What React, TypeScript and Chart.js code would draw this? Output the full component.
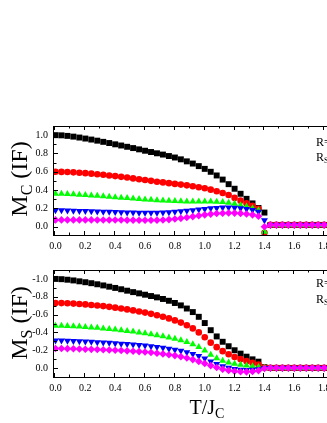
import React, { useEffect, useRef } from "react";
import { Chart, registerables } from "chart.js";

Chart.register(...registerables);

const SERIF = '"Liberation Serif", "Times New Roman", serif';

// Temperature T/J_C
const T_VALUES = [0.00,0.04,0.08,0.12,0.16,0.20,0.24,0.28,0.32,0.36,0.40,0.44,0.48,0.52,0.56,0.60,0.64,0.68,0.72,0.76,0.80,0.84,0.88,0.92,0.96,1.00,1.04,1.08,1.12,1.16,1.20,1.24,1.28,1.32,1.36,1.40,1.44,1.48,1.52,1.56,1.60,1.64,1.68,1.72,1.76,1.80,1.84,1.88,1.92,1.96,2.00];

// Top panel: M_C (IF)
const MC_BLACK = [1.000,0.998,0.992,0.984,0.974,0.963,0.952,0.940,0.927,0.914,0.900,0.887,0.873,0.859,0.845,0.830,0.816,0.802,0.788,0.772,0.756,0.736,0.714,0.690,0.662,0.632,0.600,0.560,0.515,0.465,0.415,0.360,0.305,0.255,0.205,0.155,0.02,0.02,0.02,0.02,0.02,0.02,0.02,0.02,0.02,0.02,0.02,0.02,0.02,0.02,0.02];
const MC_RED = [0.600,0.599,0.597,0.594,0.590,0.585,0.580,0.574,0.567,0.560,0.553,0.545,0.537,0.528,0.519,0.510,0.501,0.492,0.484,0.476,0.468,0.460,0.452,0.443,0.432,0.420,0.405,0.388,0.368,0.346,0.315,0.285,0.255,0.228,0.195,-0.065,0.02,0.02,0.02,0.02,0.02,0.02,0.02,0.02,0.02,0.02,0.02,0.02,0.02,0.02,0.02];
const MC_GREEN = [0.360,0.359,0.357,0.354,0.350,0.346,0.342,0.338,0.333,0.328,0.323,0.318,0.313,0.308,0.303,0.298,0.294,0.290,0.286,0.283,0.280,0.278,0.277,0.276,0.276,0.275,0.275,0.274,0.270,0.262,0.250,0.236,0.220,0.202,0.180,-0.055,0.02,0.02,0.02,0.02,0.02,0.02,0.02,0.02,0.02,0.02,0.02,0.02,0.02,0.02,0.02];
const MC_BLUE = [0.180,0.179,0.177,0.175,0.173,0.171,0.169,0.167,0.165,0.163,0.161,0.159,0.157,0.155,0.154,0.153,0.153,0.154,0.156,0.159,0.163,0.168,0.174,0.181,0.188,0.195,0.201,0.206,0.209,0.210,0.208,0.203,0.195,0.183,0.165,0.070,0.02,0.02,0.02,0.02,0.02,0.02,0.02,0.02,0.02,0.02,0.02,0.02,0.02,0.02,0.02];
const MC_MAGENTA = [0.075,0.075,0.075,0.075,0.075,0.075,0.075,0.074,0.074,0.074,0.073,0.073,0.072,0.072,0.071,0.071,0.071,0.072,0.074,0.078,0.084,0.092,0.101,0.111,0.121,0.130,0.138,0.144,0.148,0.150,0.149,0.146,0.140,0.130,0.115,0.000,0.02,0.02,0.02,0.02,0.02,0.02,0.02,0.02,0.02,0.02,0.02,0.02,0.02,0.02,0.02];

// Bottom panel: M_S (IF)
const MS_BLACK = [-1.000,-0.997,-0.991,-0.983,-0.973,-0.963,-0.952,-0.940,-0.927,-0.913,-0.899,-0.884,-0.868,-0.852,-0.838,-0.823,-0.808,-0.793,-0.775,-0.755,-0.730,-0.703,-0.668,-0.628,-0.575,-0.505,-0.425,-0.355,-0.295,-0.245,-0.200,-0.162,-0.128,-0.098,-0.072,-0.010,-0.002,-0.002,-0.002,-0.002,-0.002,-0.002,-0.002,-0.002,-0.002,-0.002,-0.002,-0.002,-0.002,-0.002,-0.002];
const MS_RED = [-0.730,-0.729,-0.727,-0.723,-0.719,-0.714,-0.708,-0.702,-0.695,-0.687,-0.678,-0.668,-0.658,-0.647,-0.635,-0.622,-0.608,-0.593,-0.576,-0.557,-0.535,-0.510,-0.480,-0.445,-0.400,-0.345,-0.285,-0.235,-0.190,-0.155,-0.125,-0.100,-0.078,-0.058,-0.040,-0.005,-0.002,-0.002,-0.002,-0.002,-0.002,-0.002,-0.002,-0.002,-0.002,-0.002,-0.002,-0.002,-0.002,-0.002,-0.002];
const MS_GREEN = [-0.475,-0.474,-0.472,-0.469,-0.465,-0.461,-0.456,-0.451,-0.445,-0.439,-0.432,-0.425,-0.417,-0.409,-0.400,-0.390,-0.380,-0.369,-0.357,-0.344,-0.330,-0.313,-0.293,-0.268,-0.236,-0.198,-0.150,-0.110,-0.082,-0.063,-0.048,-0.037,-0.028,-0.020,-0.012,-0.003,-0.002,-0.002,-0.002,-0.002,-0.002,-0.002,-0.002,-0.002,-0.002,-0.002,-0.002,-0.002,-0.002,-0.002,-0.002];
const MS_BLUE = [-0.310,-0.309,-0.307,-0.304,-0.301,-0.298,-0.295,-0.291,-0.287,-0.283,-0.279,-0.274,-0.269,-0.264,-0.258,-0.252,-0.245,-0.237,-0.228,-0.218,-0.207,-0.194,-0.178,-0.158,-0.135,-0.108,-0.075,-0.045,-0.020,-0.003,0.010,0.018,0.021,0.020,0.014,0.000,-0.002,-0.002,-0.002,-0.002,-0.002,-0.002,-0.002,-0.002,-0.002,-0.002,-0.002,-0.002,-0.002,-0.002,-0.002];
const MS_MAGENTA = [-0.220,-0.219,-0.218,-0.216,-0.214,-0.212,-0.210,-0.208,-0.206,-0.203,-0.200,-0.197,-0.193,-0.189,-0.185,-0.180,-0.174,-0.167,-0.159,-0.150,-0.140,-0.128,-0.113,-0.095,-0.075,-0.052,-0.028,-0.006,0.012,0.026,0.036,0.041,0.042,0.038,0.028,0.005,-0.002,-0.002,-0.002,-0.002,-0.002,-0.002,-0.002,-0.002,-0.002,-0.002,-0.002,-0.002,-0.002,-0.002,-0.002];

const X_TICKS = [0, 0.2, 0.4, 0.6, 0.8, 1.0, 1.2, 1.4, 1.6, 1.8, 2.0];
const MC_Y_TICKS = [0, 0.2, 0.4, 0.6, 0.8, 1.0];
const MS_Y_TICKS = [-1.0, -0.8, -0.6, -0.4, -0.2, 0.0];

const SERIES_STYLE = [
  { color: "#000000", pointStyle: "rect", radius: 4.2, rotation: 0, order: 4 },
  { color: "#ff0000", pointStyle: "circle", radius: 3.3, rotation: 0, order: 3 },
  { color: "#00ff00", pointStyle: "triangle", radius: 4, rotation: 0, order: 2 },
  { color: "#0000ff", pointStyle: "triangle", radius: 4, rotation: 180, order: 1 },
  { color: "#ff00ff", pointStyle: "rectRot", radius: 3.8, rotation: 0, order: 0 },
];

const CANVAS_W = 380;
const PLOT_LEFT = 54;
const PLOT_RIGHT = 354;

function drawSubText(ctx: CanvasRenderingContext2D, x: number, y: number, parts: [string, string, string], size: number, align: "center" | "left") {
  const f1 = `${size}px ${SERIF}`;
  const f2 = `${Math.round(size * 0.68)}px ${SERIF}`;
  ctx.font = f1;
  const w1 = ctx.measureText(parts[0]).width;
  const w3 = ctx.measureText(parts[2]).width;
  ctx.font = f2;
  const w2 = ctx.measureText(parts[1]).width;
  let cx = align === "center" ? x - (w1 + w2 + w3) / 2 : x;
  ctx.textAlign = "left";
  ctx.textBaseline = "alphabetic";
  ctx.fillStyle = "#000";
  ctx.font = f1;
  ctx.fillText(parts[0], cx, y);
  cx += w1;
  ctx.font = f2;
  ctx.fillText(parts[1], cx, y + size * 0.2);
  cx += w2;
  ctx.font = f1;
  ctx.fillText(parts[2], cx, y);
}

type PanelParams = {
  series: number[][];
  yMin: number;
  yMax: number;
  reverse: boolean;
  yTicks: number[];
  areaTop: number;
  areaBottom: number;
  canvasH: number;
  yTitle: [string, string, string];
  yTitlePos: [number, number];
  legendY: [number, number];
  xTitle?: { parts: [string, string, string]; x: number; y: number };
};

function framePlugin(p: PanelParams) {
  return {
    id: "frameDecor",
    afterDatasetsDraw(chart: any) {
      const ctx: CanvasRenderingContext2D = chart.ctx;
      const a = chart.chartArea;
      const xs = chart.scales.x;
      const ys = chart.scales.y;
      ctx.save();
      ctx.strokeStyle = "#000";
      ctx.lineWidth = 1;
      ctx.strokeRect(Math.round(a.left) - 0.5, Math.round(a.top) + 0.5, Math.round(a.right - a.left), Math.round(a.bottom - a.top));
      ctx.beginPath();
      const xt: [number, number][] = [];
      X_TICKS.forEach((v, i) => {
        xt.push([v, 4]);
        if (i < X_TICKS.length - 1) xt.push([(v + X_TICKS[i + 1]) / 2, 2.5]);
      });
      xt.forEach(([v, len]) => {
        const px = Math.round(xs.getPixelForValue(v)) - 0.5;
        ctx.moveTo(px, a.bottom);
        ctx.lineTo(px, a.bottom - len);
        ctx.moveTo(px, a.top);
        ctx.lineTo(px, a.top + len);
      });
      const yt: [number, number][] = [];
      const step = p.yTicks[1] - p.yTicks[0];
      p.yTicks.forEach((v, i) => {
        yt.push([v, 4]);
        if (i < p.yTicks.length - 1) yt.push([v + step / 2, 2.5]);
      });
      yt.push([p.yTicks[p.yTicks.length - 1] + step / 2, 2.5]);
      yt.forEach(([v, len]) => {
        const py = Math.round(ys.getPixelForValue(v)) + 0.5;
        if (py < a.top + 1 || py > a.bottom - 1) return;
        ctx.moveTo(a.left, py);
        ctx.lineTo(a.left + len, py);
        ctx.moveTo(a.right, py);
        ctx.lineTo(a.right - len, py);
      });
      ctx.stroke();
      ctx.restore();
    },
    afterDraw(chart: any) {
      const ctx: CanvasRenderingContext2D = chart.ctx;
      ctx.save();
      ctx.translate(p.yTitlePos[0], p.yTitlePos[1]);
      ctx.rotate(-Math.PI / 2);
      drawSubText(ctx, 0, 0, p.yTitle, 24, "center");
      ctx.restore();
      ctx.save();
      ctx.fillStyle = "#000";
      ctx.font = `12px ${SERIF}`;
      ctx.textAlign = "left";
      ctx.textBaseline = "alphabetic";
      ctx.fillText("R=", 316, p.legendY[0]);
      drawSubText(ctx, 316, p.legendY[1], ["R", "S", ""], 12, "left");
      if (p.xTitle) {
        drawSubText(ctx, p.xTitle.x, p.xTitle.y, p.xTitle.parts, 20, "center");
      }
      ctx.restore();
    },
  };
}

function buildConfig(p: PanelParams): any {
  const datasets = p.series.map((data, i) => {
    const s = SERIES_STYLE[i];
    return {
      data: T_VALUES.map((t, k) => ({ x: t, y: data[k] })),
      borderColor: s.color,
      backgroundColor: s.color,
      borderWidth: 0,
      showLine: false,
      pointStyle: s.pointStyle,
      pointRadius: s.radius,
      pointRotation: s.rotation,
      pointBorderWidth: 0,
      pointBackgroundColor: s.color,
      order: s.order,
    };
  });
  const tickFont = { family: SERIF, size: 10 };
  return {
    type: "line",
    data: { datasets },
    options: {
      animation: false,
      responsive: false,
      maintainAspectRatio: false,
      layout: { padding: { top: p.areaTop, left: 0, right: CANVAS_W - PLOT_RIGHT, bottom: 0 } },
      plugins: { legend: { display: false }, tooltip: { enabled: false }, title: { display: false } },
      scales: {
        x: {
          type: "linear",
          min: -0.01,
          max: 2.0,
          grid: { display: false, drawTicks: false },
          border: { display: false },
          afterBuildTicks: (s: any) => {
            s.ticks = X_TICKS.map((v) => ({ value: v }));
          },
          afterFit: (s: any) => {
            s.height = p.canvasH - p.areaBottom;
          },
          ticks: {
            padding: 5,
            color: "#000",
            font: tickFont,
            maxRotation: 0,
            autoSkip: false,
            callback: (v: any) => Number(v).toFixed(1),
          },
        },
        y: {
          type: "linear",
          min: p.yMin,
          max: p.yMax,
          reverse: p.reverse,
          grid: { display: false, drawTicks: false },
          border: { display: false },
          afterBuildTicks: (s: any) => {
            s.ticks = p.yTicks.map((v) => ({ value: v }));
          },
          afterFit: (s: any) => {
            s.width = PLOT_LEFT;
          },
          ticks: {
            padding: 6,
            color: "#000",
            font: tickFont,
            autoSkip: false,
            callback: (v: any) => Number(v).toFixed(1),
          },
        },
      },
    },
    plugins: [framePlugin(p)],
  };
}

export default function App() {
  const topRef = useRef<HTMLCanvasElement>(null);
  const botRef = useRef<HTMLCanvasElement>(null);

  useEffect(() => {
    const c1 = new Chart(
      topRef.current as HTMLCanvasElement,
      buildConfig({
        series: [MC_BLACK, MC_RED, MC_GREEN, MC_BLUE, MC_MAGENTA],
        yMin: -0.09,
        yMax: 1.1,
        reverse: false,
        yTicks: MC_Y_TICKS,
        areaTop: 126,
        areaBottom: 235,
        canvasH: 258,
        yTitle: ["M", "C", " (IF)"],
        yTitlePos: [27, 179],
        legendY: [146, 161],
      })
    );
    const c2 = new Chart(
      botRef.current as HTMLCanvasElement,
      buildConfig({
        series: [MS_BLACK, MS_RED, MS_GREEN, MS_BLUE, MS_MAGENTA],
        yMin: -1.1,
        yMax: 0.1,
        reverse: true,
        yTicks: MS_Y_TICKS,
        areaTop: 9,
        areaBottom: 119,
        canvasH: 165,
        yTitle: ["M", "S", " (IF)"],
        yTitlePos: [27, 65],
        legendY: [29, 45],
        xTitle: { parts: ["T/J", "C", ""], x: 207, y: 156 },
      })
    );
    return () => {
      c1.destroy();
      c2.destroy();
    };
  }, []);

  return (
    <div style={{ position: "fixed", left: 0, top: 0, width: 327, height: 423, overflow: "hidden", background: "#fff" }}>
      <canvas ref={topRef} width={CANVAS_W} height={258} style={{ position: "absolute", left: 0, top: 0, width: CANVAS_W, height: 258 }} />
      <canvas ref={botRef} width={CANVAS_W} height={165} style={{ position: "absolute", left: 0, top: 258, width: CANVAS_W, height: 165 }} />
    </div>
  );
}
